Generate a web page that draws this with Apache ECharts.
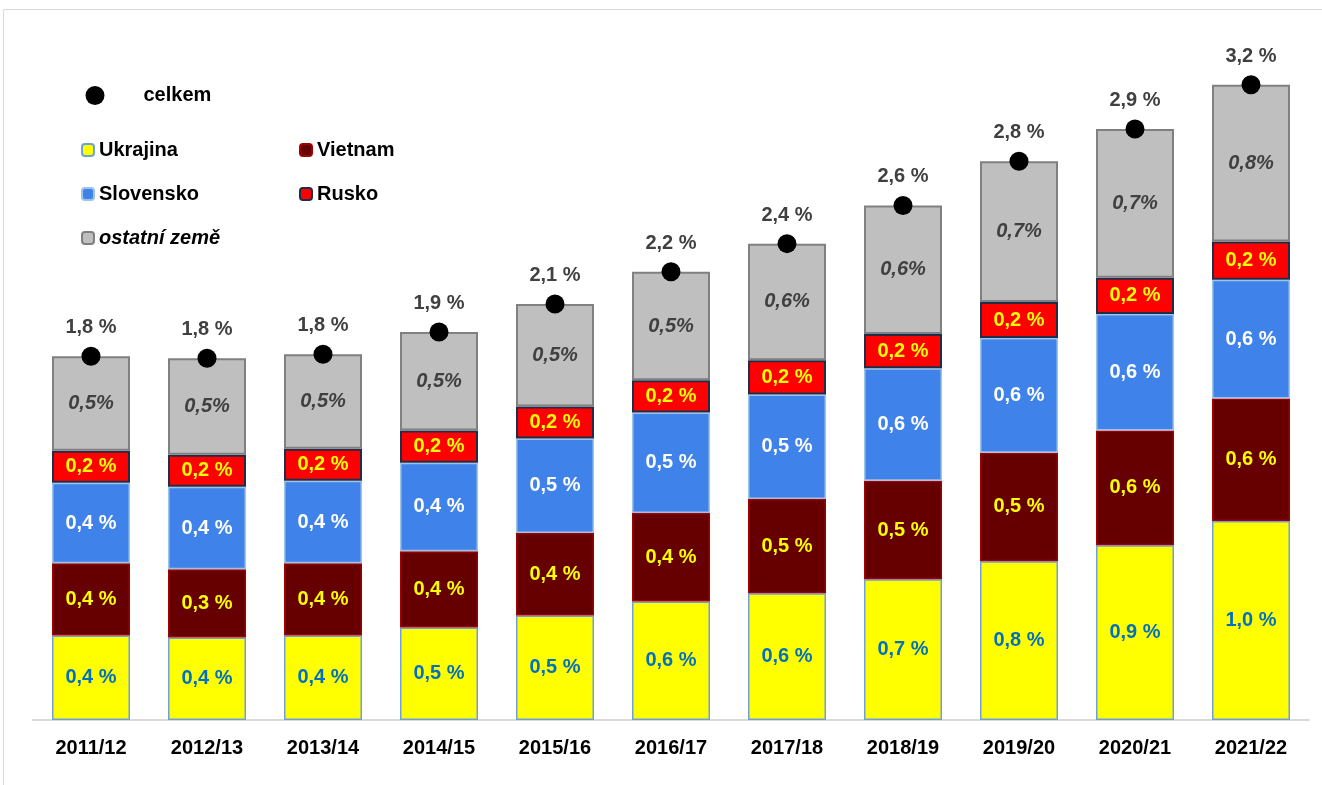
<!DOCTYPE html>
<html>
<head>
<meta charset="utf-8">
<script src="https://cdn.jsdelivr.net/npm/echarts@6/dist/echarts.min.js"></script>
<style>
  html, body { margin: 0; padding: 0; background: #fff; }
  #chart { width: 1322px; height: 785px; }
</style>
</head>
<body>
<div id="chart"></div>
<script>
const years = ["2011/12", "2012/13", "2013/14", "2014/15", "2015/16", "2016/17", "2017/18", "2018/19", "2019/20", "2020/21", "2021/22"];
const ukrajina = [0.42, 0.41, 0.42, 0.46, 0.52, 0.59, 0.63, 0.70, 0.79, 0.87, 0.99];
const vietnam = [0.36, 0.34, 0.36, 0.38, 0.41, 0.44, 0.47, 0.49, 0.54, 0.57, 0.61];
const slovensko = [0.40, 0.41, 0.41, 0.44, 0.47, 0.50, 0.52, 0.56, 0.57, 0.58, 0.59];
const rusko = [0.16, 0.16, 0.16, 0.16, 0.16, 0.16, 0.17, 0.17, 0.18, 0.18, 0.19];
const ostatni = [0.47, 0.48, 0.47, 0.49, 0.51, 0.54, 0.58, 0.64, 0.70, 0.74, 0.78];
const celkem = [1.81, 1.80, 1.82, 1.93, 2.07, 2.23, 2.37, 2.56, 2.78, 2.94, 3.16];

const FONT = "'Liberation Sans', Arial, sans-serif";
const fmt = v => v.toFixed(1).replace(".", ",");

const chart = echarts.init(document.getElementById("chart"));

// popisek uvnitř sloupce
function barLabel(color, italic) {
  return {
    show: true,
    position: "inside",
    fontFamily: FONT,
    fontSize: 20,
    fontWeight: "bold",
    fontStyle: italic ? "italic" : "normal",
    color: color,
    formatter: p => italic ? fmt(p.value) + "%" : fmt(p.value) + " %"
  };
}

function barSeries(name, data, fill, border, bw, labelColor, italic) {
  return {
    name: name,
    type: "bar",
    stack: "all",
    barWidth: 78,
    data: data,
    itemStyle: { color: fill, borderColor: border, borderWidth: bw },
    label: barLabel(labelColor, italic),
    emphasis: { disabled: true }
  };
}

const legendText = { fontFamily: FONT, fontSize: 20, fontWeight: "bold", color: "#000", lineHeight: 20 };

function legendAt(name, left, top, extra) {
  return Object.assign({
    data: [name],
    left: left,
    top: top,
    padding: 0,
    itemWidth: 12,
    itemHeight: 12,
    selectedMode: false,
    textStyle: Object.assign({}, legendText)
  }, extra || {});
}

const option = {
  animation: false,
  backgroundColor: "#fff",
  graphic: [{
    type: "rect",
    shape: { x: 3.5, y: 9.5, width: 1340, height: 800 },
    style: { fill: "none", stroke: "#d9d9d9", lineWidth: 1 },
    silent: true
  }],
  legend: [
    legendAt("celkem", 85.5, 85.5, {
      icon: "circle", itemWidth: 19, itemHeight: 19,
      textStyle: Object.assign({}, legendText, { padding: [0, 0, 0, 34] })
    }),
    legendAt("Ukrajina", 81, 140),
    legendAt("Vietnam", 299, 140),
    legendAt("Slovensko", 81, 184),
    legendAt("Rusko", 299, 184),
    legendAt("ostatní země", 81, 228, {
      textStyle: Object.assign({}, legendText, { fontStyle: "italic" })
    })
  ],
  grid: { left: 33, right: 13, top: 16.5, bottom: 65 },
  xAxis: {
    type: "category",
    data: years,
    axisLine: { lineStyle: { color: "#d9d9d9", width: 2 } },
    axisTick: { show: false },
    axisLabel: {
      fontFamily: FONT, fontSize: 20, fontWeight: "bold", color: "#000", margin: 18
    }
  },
  yAxis: { type: "value", min: 0, max: 3.5, show: false, splitLine: { show: false } },
  series: [
    barSeries("Ukrajina", ukrajina, "#FFFF00", "#6FA0DC", 1.5, "#0070C0", false),
    barSeries("Vietnam", vietnam, "#660000", "#A00000", 1.5, "#FFFF00", false),
    barSeries("Slovensko", slovensko, "#3F82E9", "#9DC3E6", 1.5, "#FFFFFF", false),
    barSeries("Rusko", rusko, "#FF0000", "#1F2D4A", 2, "#FFFF00", false),
    barSeries("ostatní země", ostatni, "#BFBFBF", "#808080", 2, "#404040", true),
    {
      name: "celkem",
      type: "scatter",
      data: celkem,
      symbol: "circle",
      symbolSize: 19,
      z: 5,
      itemStyle: { color: "#000", opacity: 1 },
      label: {
        show: true,
        position: "top",
        distance: 9,
        fontFamily: FONT,
        fontSize: 20,
        fontWeight: "bold",
        color: "#404040",
        formatter: p => fmt(p.value) + " %"
      },
      emphasis: { disabled: true }
    }
  ]
};

chart.setOption(option);
</script>
</body>
</html>
